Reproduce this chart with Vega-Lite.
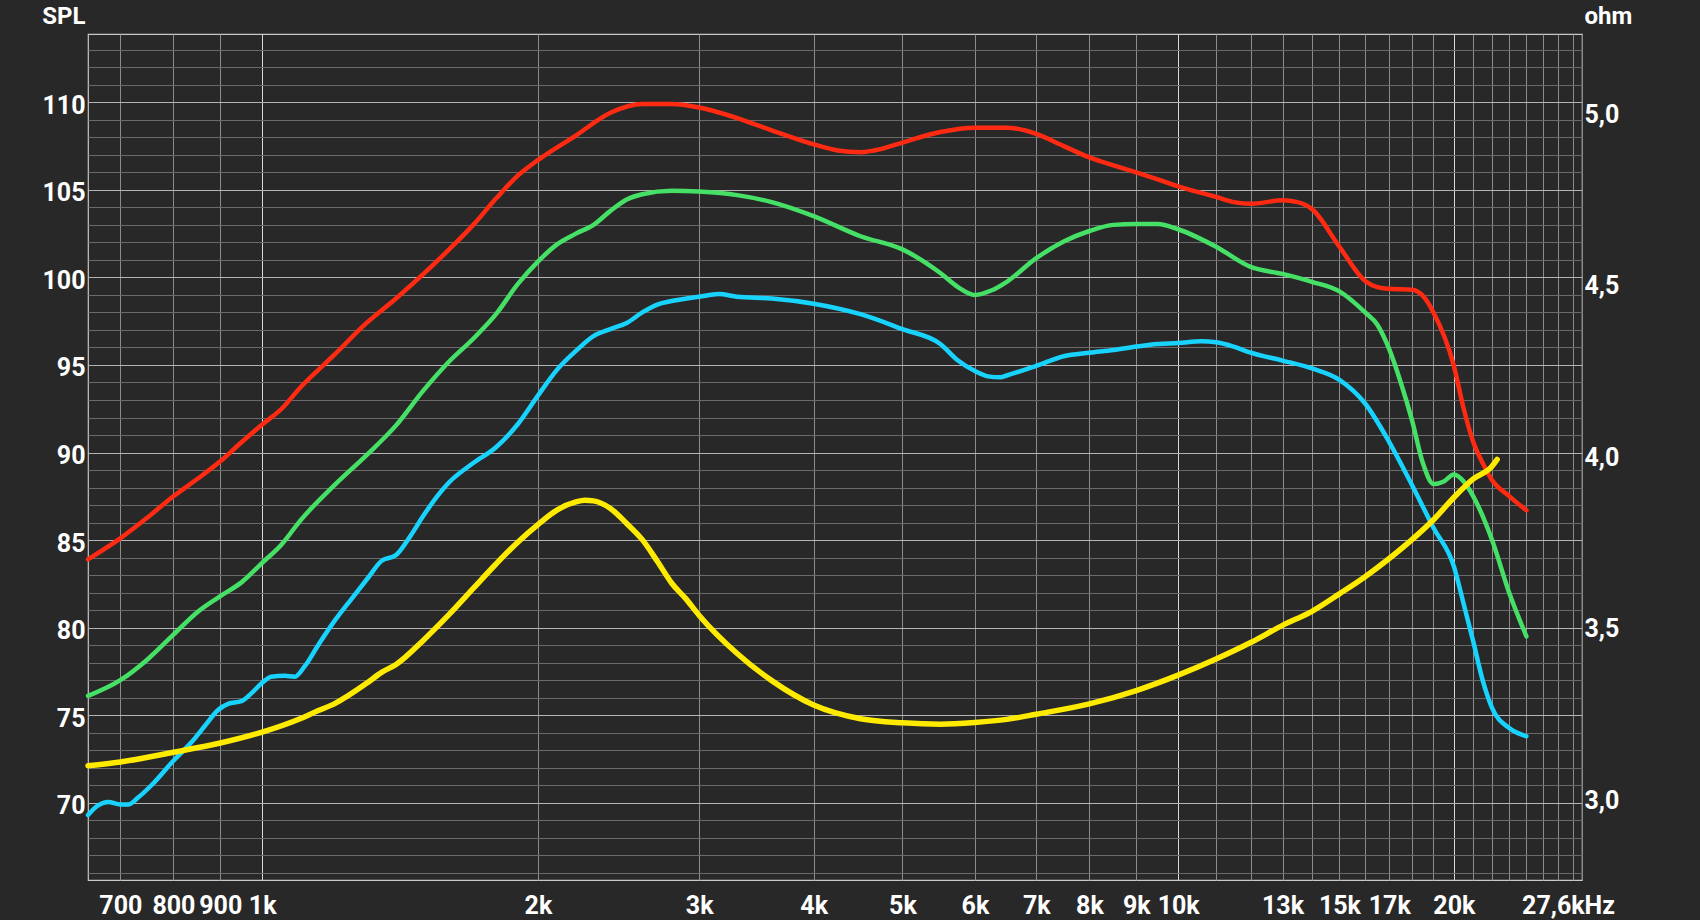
{
  "$schema": "https://vega.github.io/schema/vega-lite/v6.json",
  "width": 1494,
  "height": 846,
  "autosize": {"type": "none"},
  "padding": {"left": 88, "top": 34, "right": 118, "bottom": 40},
  "background": "#282828",
  "config": {
    "view": {"stroke": "#c8c8c8", "strokeWidth": 1.2},
    "axis": {
      "labelFont": "Roboto", "labelFontWeight": "bold", "labelColor": "#ffffff", "labelFontSize": 25,
      "titleFont": "Roboto", "titleFontWeight": "bold", "titleColor": "#ffffff", "titleFontSize": 24,
      "domain": false, "ticks": false, "tickSize": 0
    }
  },
  "datasets": {
    "spl": [
      {"f": 645.4, "v": 83.9, "s": "red"}, {"f": 700, "v": 85.1, "s": "red"}, {"f": 750, "v": 86.3, "s": "red"}, {"f": 800, "v": 87.5, "s": "red"}, {"f": 850, "v": 88.5, "s": "red"}, {"f": 900, "v": 89.5, "s": "red"}, {"f": 950, "v": 90.6, "s": "red"}, {"f": 1000, "v": 91.6, "s": "red"}, {"f": 1050, "v": 92.5, "s": "red"}, {"f": 1100, "v": 93.7, "s": "red"}, {"f": 1200, "v": 95.6, "s": "red"}, {"f": 1300, "v": 97.4, "s": "red"}, {"f": 1400, "v": 98.8, "s": "red"}, {"f": 1500, "v": 100.2, "s": "red"}, {"f": 1600, "v": 101.6, "s": "red"}, {"f": 1700, "v": 103.0, "s": "red"}, {"f": 1800, "v": 104.5, "s": "red"}, {"f": 1900, "v": 105.8, "s": "red"}, {"f": 2000, "v": 106.7, "s": "red"}, {"f": 2200, "v": 108.1, "s": "red"}, {"f": 2400, "v": 109.4, "s": "red"}, {"f": 2600, "v": 109.9, "s": "red"}, {"f": 2800, "v": 109.9, "s": "red"}, {"f": 3000, "v": 109.7, "s": "red"}, {"f": 3300, "v": 109.1, "s": "red"}, {"f": 3600, "v": 108.4, "s": "red"}, {"f": 4000, "v": 107.6, "s": "red"}, {"f": 4250, "v": 107.25, "s": "red"}, {"f": 4500, "v": 107.15, "s": "red"}, {"f": 4750, "v": 107.35, "s": "red"}, {"f": 5000, "v": 107.7, "s": "red"}, {"f": 5500, "v": 108.3, "s": "red"}, {"f": 6000, "v": 108.55, "s": "red"}, {"f": 6500, "v": 108.55, "s": "red"}, {"f": 7000, "v": 108.2, "s": "red"}, {"f": 7500, "v": 107.5, "s": "red"}, {"f": 8000, "v": 106.85, "s": "red"}, {"f": 8500, "v": 106.4, "s": "red"}, {"f": 9000, "v": 106.0, "s": "red"}, {"f": 9500, "v": 105.6, "s": "red"}, {"f": 10000, "v": 105.2, "s": "red"}, {"f": 11000, "v": 104.6, "s": "red"}, {"f": 11500, "v": 104.3, "s": "red"}, {"f": 12000, "v": 104.2, "s": "red"}, {"f": 13000, "v": 104.4, "s": "red"}, {"f": 13500, "v": 104.3, "s": "red"}, {"f": 14000, "v": 103.9, "s": "red"}, {"f": 15000, "v": 101.75, "s": "red"}, {"f": 16000, "v": 99.8, "s": "red"}, {"f": 16500, "v": 99.45, "s": "red"}, {"f": 17000, "v": 99.35, "s": "red"}, {"f": 18000, "v": 99.3, "s": "red"}, {"f": 18500, "v": 98.95, "s": "red"}, {"f": 19000, "v": 98.0, "s": "red"}, {"f": 20000, "v": 94.95, "s": "red"}, {"f": 20500, "v": 92.5, "s": "red"}, {"f": 21000, "v": 90.6, "s": "red"}, {"f": 21500, "v": 89.4, "s": "red"}, {"f": 22000, "v": 88.45, "s": "red"}, {"f": 23000, "v": 87.5, "s": "red"}, {"f": 24000, "v": 86.7, "s": "red"},

      {"f": 645.4, "v": 76.1, "s": "green"}, {"f": 700, "v": 77.0, "s": "green"}, {"f": 750, "v": 78.2, "s": "green"}, {"f": 800, "v": 79.6, "s": "green"}, {"f": 850, "v": 80.9, "s": "green"}, {"f": 900, "v": 81.8, "s": "green"}, {"f": 950, "v": 82.6, "s": "green"}, {"f": 1000, "v": 83.7, "s": "green"}, {"f": 1050, "v": 84.75, "s": "green"}, {"f": 1100, "v": 86.1, "s": "green"}, {"f": 1200, "v": 88.15, "s": "green"}, {"f": 1300, "v": 89.85, "s": "green"}, {"f": 1400, "v": 91.55, "s": "green"}, {"f": 1500, "v": 93.55, "s": "green"}, {"f": 1600, "v": 95.2, "s": "green"}, {"f": 1700, "v": 96.5, "s": "green"}, {"f": 1800, "v": 97.9, "s": "green"}, {"f": 1900, "v": 99.6, "s": "green"}, {"f": 2000, "v": 100.9, "s": "green"}, {"f": 2100, "v": 101.9, "s": "green"}, {"f": 2200, "v": 102.5, "s": "green"}, {"f": 2300, "v": 103.0, "s": "green"}, {"f": 2400, "v": 103.8, "s": "green"}, {"f": 2500, "v": 104.45, "s": "green"}, {"f": 2600, "v": 104.75, "s": "green"}, {"f": 2800, "v": 104.95, "s": "green"}, {"f": 3000, "v": 104.9, "s": "green"}, {"f": 3300, "v": 104.7, "s": "green"}, {"f": 3600, "v": 104.3, "s": "green"}, {"f": 4000, "v": 103.5, "s": "green"}, {"f": 4500, "v": 102.35, "s": "green"}, {"f": 5000, "v": 101.6, "s": "green"}, {"f": 5500, "v": 100.25, "s": "green"}, {"f": 5750, "v": 99.45, "s": "green"}, {"f": 6000, "v": 99.0, "s": "green"}, {"f": 6250, "v": 99.25, "s": "green"}, {"f": 6500, "v": 99.75, "s": "green"}, {"f": 7000, "v": 101.1, "s": "green"}, {"f": 7500, "v": 102.05, "s": "green"}, {"f": 8000, "v": 102.65, "s": "green"}, {"f": 8500, "v": 103.0, "s": "green"}, {"f": 9000, "v": 103.05, "s": "green"}, {"f": 9500, "v": 103.05, "s": "green"}, {"f": 10000, "v": 102.75, "s": "green"}, {"f": 11000, "v": 101.75, "s": "green"}, {"f": 12000, "v": 100.6, "s": "green"}, {"f": 13000, "v": 100.2, "s": "green"}, {"f": 14000, "v": 99.75, "s": "green"}, {"f": 15000, "v": 99.2, "s": "green"}, {"f": 16000, "v": 98.0, "s": "green"}, {"f": 16500, "v": 97.3, "s": "green"}, {"f": 17000, "v": 95.9, "s": "green"}, {"f": 17500, "v": 94.0, "s": "green"}, {"f": 18000, "v": 91.85, "s": "green"}, {"f": 18500, "v": 89.4, "s": "green"}, {"f": 19000, "v": 88.2, "s": "green"}, {"f": 19500, "v": 88.35, "s": "green"}, {"f": 20000, "v": 88.75, "s": "green"}, {"f": 20500, "v": 88.35, "s": "green"}, {"f": 21000, "v": 87.5, "s": "green"}, {"f": 22000, "v": 85.05, "s": "green"}, {"f": 23000, "v": 81.95, "s": "green"}, {"f": 24000, "v": 79.5, "s": "green"},

      {"f": 645.4, "v": 69.3, "s": "cyan"}, {"f": 662, "v": 69.85, "s": "cyan"}, {"f": 679, "v": 70.05, "s": "cyan"}, {"f": 700, "v": 69.9, "s": "cyan"}, {"f": 714, "v": 69.9, "s": "cyan"}, {"f": 732, "v": 70.3, "s": "cyan"}, {"f": 757, "v": 71.0, "s": "cyan"}, {"f": 800, "v": 72.4, "s": "cyan"}, {"f": 837, "v": 73.45, "s": "cyan"}, {"f": 866, "v": 74.4, "s": "cyan"}, {"f": 895, "v": 75.3, "s": "cyan"}, {"f": 918, "v": 75.65, "s": "cyan"}, {"f": 949, "v": 75.8, "s": "cyan"}, {"f": 973, "v": 76.25, "s": "cyan"}, {"f": 1000, "v": 76.85, "s": "cyan"}, {"f": 1023, "v": 77.2, "s": "cyan"}, {"f": 1058, "v": 77.25, "s": "cyan"}, {"f": 1085, "v": 77.2, "s": "cyan"}, {"f": 1113, "v": 77.8, "s": "cyan"}, {"f": 1151, "v": 79.0, "s": "cyan"}, {"f": 1200, "v": 80.4, "s": "cyan"}, {"f": 1252, "v": 81.65, "s": "cyan"}, {"f": 1305, "v": 82.85, "s": "cyan"}, {"f": 1349, "v": 83.8, "s": "cyan"}, {"f": 1400, "v": 84.15, "s": "cyan"}, {"f": 1450, "v": 85.2, "s": "cyan"}, {"f": 1500, "v": 86.4, "s": "cyan"}, {"f": 1550, "v": 87.45, "s": "cyan"}, {"f": 1600, "v": 88.3, "s": "cyan"}, {"f": 1700, "v": 89.4, "s": "cyan"}, {"f": 1800, "v": 90.3, "s": "cyan"}, {"f": 1900, "v": 91.6, "s": "cyan"}, {"f": 2000, "v": 93.25, "s": "cyan"}, {"f": 2100, "v": 94.75, "s": "cyan"}, {"f": 2200, "v": 95.8, "s": "cyan"}, {"f": 2300, "v": 96.65, "s": "cyan"}, {"f": 2400, "v": 97.05, "s": "cyan"}, {"f": 2500, "v": 97.4, "s": "cyan"}, {"f": 2600, "v": 98.0, "s": "cyan"}, {"f": 2700, "v": 98.45, "s": "cyan"}, {"f": 2800, "v": 98.65, "s": "cyan"}, {"f": 3000, "v": 98.9, "s": "cyan"}, {"f": 3150, "v": 99.05, "s": "cyan"}, {"f": 3300, "v": 98.9, "s": "cyan"}, {"f": 3600, "v": 98.8, "s": "cyan"}, {"f": 4000, "v": 98.5, "s": "cyan"}, {"f": 4500, "v": 97.9, "s": "cyan"}, {"f": 5000, "v": 97.05, "s": "cyan"}, {"f": 5500, "v": 96.2, "s": "cyan"}, {"f": 5750, "v": 95.25, "s": "cyan"}, {"f": 6000, "v": 94.65, "s": "cyan"}, {"f": 6200, "v": 94.35, "s": "cyan"}, {"f": 6400, "v": 94.3, "s": "cyan"}, {"f": 6500, "v": 94.4, "s": "cyan"}, {"f": 7000, "v": 94.95, "s": "cyan"}, {"f": 7500, "v": 95.5, "s": "cyan"}, {"f": 8000, "v": 95.7, "s": "cyan"}, {"f": 8500, "v": 95.85, "s": "cyan"}, {"f": 9000, "v": 96.05, "s": "cyan"}, {"f": 9500, "v": 96.2, "s": "cyan"}, {"f": 10000, "v": 96.25, "s": "cyan"}, {"f": 10600, "v": 96.35, "s": "cyan"}, {"f": 11000, "v": 96.3, "s": "cyan"}, {"f": 11500, "v": 96.05, "s": "cyan"}, {"f": 12000, "v": 95.7, "s": "cyan"}, {"f": 13000, "v": 95.25, "s": "cyan"}, {"f": 14000, "v": 94.8, "s": "cyan"}, {"f": 15000, "v": 94.15, "s": "cyan"}, {"f": 16000, "v": 92.8, "s": "cyan"}, {"f": 17000, "v": 90.6, "s": "cyan"}, {"f": 18000, "v": 88.15, "s": "cyan"}, {"f": 19000, "v": 85.7, "s": "cyan"}, {"f": 20000, "v": 83.5, "s": "cyan"}, {"f": 20500, "v": 81.35, "s": "cyan"}, {"f": 21000, "v": 79.2, "s": "cyan"}, {"f": 21500, "v": 77.0, "s": "cyan"}, {"f": 22000, "v": 75.45, "s": "cyan"}, {"f": 23000, "v": 74.25, "s": "cyan"}, {"f": 24000, "v": 73.8, "s": "cyan"}
    ],
    "imp": [
      {"f": 645.4, "z": 3.103}, {"f": 700, "z": 3.114}, {"f": 800, "z": 3.142}, {"f": 900, "z": 3.169}, {"f": 1000, "z": 3.201}, {"f": 1100, "z": 3.24}, {"f": 1150, "z": 3.263}, {"f": 1200, "z": 3.284}, {"f": 1300, "z": 3.343}, {"f": 1350, "z": 3.375}, {"f": 1400, "z": 3.398}, {"f": 1500, "z": 3.469}, {"f": 1600, "z": 3.544}, {"f": 1700, "z": 3.62}, {"f": 1800, "z": 3.691}, {"f": 1900, "z": 3.754}, {"f": 2000, "z": 3.806}, {"f": 2100, "z": 3.849}, {"f": 2200, "z": 3.872}, {"f": 2250, "z": 3.877}, {"f": 2300, "z": 3.875}, {"f": 2400, "z": 3.853}, {"f": 2500, "z": 3.809}, {"f": 2600, "z": 3.762}, {"f": 2700, "z": 3.699}, {"f": 2800, "z": 3.635}, {"f": 2900, "z": 3.59}, {"f": 3000, "z": 3.541}, {"f": 3300, "z": 3.43}, {"f": 3600, "z": 3.351}, {"f": 4000, "z": 3.28}, {"f": 4500, "z": 3.24}, {"f": 5000, "z": 3.228}, {"f": 5500, "z": 3.224}, {"f": 6000, "z": 3.229}, {"f": 6500, "z": 3.238}, {"f": 7000, "z": 3.253}, {"f": 8000, "z": 3.283}, {"f": 9000, "z": 3.322}, {"f": 10000, "z": 3.367}, {"f": 11000, "z": 3.414}, {"f": 12000, "z": 3.462}, {"f": 13000, "z": 3.512}, {"f": 14000, "z": 3.553}, {"f": 15000, "z": 3.604}, {"f": 16000, "z": 3.654}, {"f": 17000, "z": 3.707}, {"f": 18000, "z": 3.762}, {"f": 19000, "z": 3.82}, {"f": 20000, "z": 3.885}, {"f": 21000, "z": 3.939}, {"f": 22000, "z": 3.975}, {"f": 22300, "z": 3.996}
    ]
  },
  "layer": [
    {
      "data": {"name": "spl"},
      "mark": {"type": "line", "interpolate": "monotone", "strokeWidth": 4.5, "strokeCap": "round", "strokeJoin": "round"},
      "encoding": {
        "x": {
          "field": "f", "type": "quantitative",
          "scale": {"type": "log", "domain": [645.4, 27600], "nice": false, "zero": false},
          "axis": {
            "title": null,
            "values": [700, 800, 900, 1000, 2000, 3000, 4000, 5000, 6000, 7000, 8000, 9000, 10000, 11000, 12000, 13000, 14000, 15000, 16000, 17000, 18000, 19000, 20000, 21000, 22000, 23000, 24000, 25000, 26000, 27000, 27600],
            "labelExpr": "datum.value < 1000 ? datum.value + '' : (datum.value > 27000 ? '27,6kHz' : (indexof([1000,2000,3000,4000,5000,6000,7000,8000,9000,10000,13000,15000,17000,20000], datum.value) >= 0 ? (datum.value / 1000) + 'k' : ''))",
            "labelBaseline": "alphabetic",
            "labelPadding": 33.5,
            "labelFlush": false,
            "labelOverlap": false,
            "labelBound": false,
            "labelOffset": {"condition": {"test": "datum.value > 27000", "value": -14}, "value": 0},
            "grid": true,
            "gridWidth": 1,
            "gridColor": {"condition": {"test": "indexof([1000,10000,20000], datum.value) >= 0", "value": "#d8d8d8"}, "value": "#8c8c8c"}
          }
        },
        "y": {
          "field": "v", "type": "quantitative",
          "scale": {"domain": [65.59, 113.9], "nice": false, "zero": false},
          "axis": {
            "orient": "left",
            "title": "SPL", "titleAngle": 0, "titleAlign": "right", "titleBaseline": "alphabetic", "titleX": -3, "titleY": -11,
            "values": [66, 67, 68, 69, 70, 71, 72, 73, 74, 75, 76, 77, 78, 79, 80, 81, 82, 83, 84, 85, 86, 87, 88, 89, 90, 91, 92, 93, 94, 95, 96, 97, 98, 99, 100, 101, 102, 103, 104, 105, 106, 107, 108, 109, 110, 111, 112, 113],
            "labelExpr": "datum.value % 5 === 0 ? datum.label : ''",
            "labelPadding": 3,
            "labelOffset": 3,
            "labelOverlap": false,
            "grid": true,
            "gridWidth": 1,
            "gridColor": {"condition": {"test": "datum.value % 5 === 0", "value": "#b4b4b4"}, "value": "#6a6a6a"}
          }
        },
        "color": {
          "field": "s", "type": "nominal",
          "scale": {"domain": ["red", "green", "cyan"], "range": ["#ff2a12", "#45e065", "#19d3ff"]},
          "legend": null
        }
      }
    },
    {
      "data": {"name": "imp"},
      "mark": {"type": "line", "interpolate": "monotone", "strokeWidth": 5.5, "strokeCap": "round", "color": "#ffeb00"},
      "encoding": {
        "x": {"field": "f", "type": "quantitative"},
        "y": {
          "field": "z", "type": "quantitative",
          "scale": {"domain": [2.7697, 5.2362], "nice": false, "zero": false},
          "axis": {
            "orient": "right",
            "title": "ohm", "titleAngle": 0, "titleAlign": "left", "titleBaseline": "alphabetic", "titleX": 2, "titleY": -11,
            "values": [3.0, 3.5, 4.0, 4.5, 5.0],
            "labelExpr": "replace(format(datum.value, '.1f'), '.', ',')",
            "labelPadding": 2,
            "labelOffset": -1,
            "grid": false
          }
        }
      }
    }
  ],
  "resolve": {"scale": {"y": "independent"}}
}
